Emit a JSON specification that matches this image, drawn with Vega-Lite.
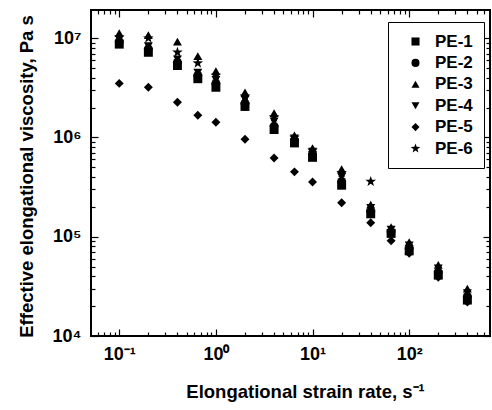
{
  "$schema": "https://vega.github.io/schema/vega-lite/v6.json",
  "width": 399,
  "height": 326,
  "autosize": {"type": "none"},
  "padding": {"left": 91, "top": 10, "right": 2, "bottom": 74},
  "background": "white",
  "config": {
    "view": {"stroke": "black", "strokeWidth": 2},
    "font": "Liberation Sans",
    "axis": {"grid": false, "domain": false, "labelOverlap": false, "labelFlush": false}
  },
  "data": {
    "values": [
      {"series": "PE-1", "rate": 0.1, "visc": 8700000}, {"series": "PE-1", "rate": 0.2, "visc": 7200000}, {"series": "PE-1", "rate": 0.4, "visc": 5300000}, {"series": "PE-1", "rate": 0.65, "visc": 3900000}, {"series": "PE-1", "rate": 1, "visc": 3200000}, {"series": "PE-1", "rate": 2, "visc": 2050000}, {"series": "PE-1", "rate": 4, "visc": 1200000}, {"series": "PE-1", "rate": 6.5, "visc": 880000}, {"series": "PE-1", "rate": 10, "visc": 630000}, {"series": "PE-1", "rate": 20, "visc": 330000}, {"series": "PE-1", "rate": 40, "visc": 170000}, {"series": "PE-1", "rate": 65, "visc": 108000}, {"series": "PE-1", "rate": 100, "visc": 72000}, {"series": "PE-1", "rate": 200, "visc": 41000}, {"series": "PE-1", "rate": 400, "visc": 23000},
      {"series": "PE-2", "rate": 0.1, "visc": 9200000}, {"series": "PE-2", "rate": 0.2, "visc": 7800000}, {"series": "PE-2", "rate": 0.4, "visc": 5700000}, {"series": "PE-2", "rate": 0.65, "visc": 4200000}, {"series": "PE-2", "rate": 1, "visc": 3500000}, {"series": "PE-2", "rate": 2, "visc": 2200000}, {"series": "PE-2", "rate": 4, "visc": 1300000}, {"series": "PE-2", "rate": 6.5, "visc": 930000}, {"series": "PE-2", "rate": 10, "visc": 680000}, {"series": "PE-2", "rate": 20, "visc": 360000}, {"series": "PE-2", "rate": 40, "visc": 180000}, {"series": "PE-2", "rate": 65, "visc": 112000}, {"series": "PE-2", "rate": 100, "visc": 76000}, {"series": "PE-2", "rate": 200, "visc": 44000}, {"series": "PE-2", "rate": 400, "visc": 25000},
      {"series": "PE-3", "rate": 0.1, "visc": 11200000}, {"series": "PE-3", "rate": 0.2, "visc": 10700000}, {"series": "PE-3", "rate": 0.4, "visc": 9200000}, {"series": "PE-3", "rate": 0.65, "visc": 6600000}, {"series": "PE-3", "rate": 1, "visc": 4650000}, {"series": "PE-3", "rate": 2, "visc": 2850000}, {"series": "PE-3", "rate": 4, "visc": 1760000}, {"series": "PE-3", "rate": 6.5, "visc": 1050000}, {"series": "PE-3", "rate": 10, "visc": 780000}, {"series": "PE-3", "rate": 20, "visc": 480000}, {"series": "PE-3", "rate": 40, "visc": 210000}, {"series": "PE-3", "rate": 65, "visc": 125000}, {"series": "PE-3", "rate": 100, "visc": 88000}, {"series": "PE-3", "rate": 200, "visc": 52000}, {"series": "PE-3", "rate": 400, "visc": 30000},
      {"series": "PE-4", "rate": 0.1, "visc": 9700000}, {"series": "PE-4", "rate": 0.2, "visc": 8300000}, {"series": "PE-4", "rate": 0.4, "visc": 6100000}, {"series": "PE-4", "rate": 0.65, "visc": 4500000}, {"series": "PE-4", "rate": 1, "visc": 3800000}, {"series": "PE-4", "rate": 2, "visc": 2400000}, {"series": "PE-4", "rate": 4, "visc": 1450000}, {"series": "PE-4", "rate": 6.5, "visc": 980000}, {"series": "PE-4", "rate": 10, "visc": 720000}, {"series": "PE-4", "rate": 20, "visc": 400000}, {"series": "PE-4", "rate": 40, "visc": 195000}, {"series": "PE-4", "rate": 65, "visc": 118000}, {"series": "PE-4", "rate": 100, "visc": 82000}, {"series": "PE-4", "rate": 200, "visc": 48000}, {"series": "PE-4", "rate": 400, "visc": 27000},
      {"series": "PE-5", "rate": 0.1, "visc": 3500000}, {"series": "PE-5", "rate": 0.2, "visc": 3200000}, {"series": "PE-5", "rate": 0.4, "visc": 2260000}, {"series": "PE-5", "rate": 0.65, "visc": 1670000}, {"series": "PE-5", "rate": 1, "visc": 1420000}, {"series": "PE-5", "rate": 2, "visc": 960000}, {"series": "PE-5", "rate": 4, "visc": 620000}, {"series": "PE-5", "rate": 6.5, "visc": 450000}, {"series": "PE-5", "rate": 10, "visc": 355000}, {"series": "PE-5", "rate": 20, "visc": 220000}, {"series": "PE-5", "rate": 40, "visc": 138000}, {"series": "PE-5", "rate": 65, "visc": 91000}, {"series": "PE-5", "rate": 100, "visc": 68000}, {"series": "PE-5", "rate": 200, "visc": 39000}, {"series": "PE-5", "rate": 400, "visc": 22000},
      {"series": "PE-6", "rate": 0.1, "visc": 10200000}, {"series": "PE-6", "rate": 0.2, "visc": 10000000}, {"series": "PE-6", "rate": 0.4, "visc": 7200000}, {"series": "PE-6", "rate": 0.65, "visc": 5600000}, {"series": "PE-6", "rate": 1, "visc": 4200000}, {"series": "PE-6", "rate": 2, "visc": 2600000}, {"series": "PE-6", "rate": 4, "visc": 1600000}, {"series": "PE-6", "rate": 6.5, "visc": 1000000}, {"series": "PE-6", "rate": 10, "visc": 740000}, {"series": "PE-6", "rate": 20, "visc": 440000}, {"series": "PE-6", "rate": 40, "visc": 360000}
    ]
  },
  "layer": [
    {
      "mark": {"type": "point", "filled": true, "opacity": 1, "size": 80, "color": "black"},
      "encoding": {
        "x": {
          "field": "rate", "type": "quantitative",
          "scale": {"type": "log", "domain": [0.051, 686], "nice": false},
          "axis": {
            "orient": "bottom",
            "values": [0.06,0.07,0.08,0.09,0.1,0.2,0.3,0.4,0.5,0.6,0.7,0.8,0.9,1,2,3,4,5,6,7,8,9,10,20,30,40,50,60,70,80,90,100,200,300,400,500,600],
            "labelExpr": "datum.value == 0.1 ? '10⁻¹' : datum.value == 1 ? '10⁰' : datum.value == 10 ? '10¹' : datum.value == 100 ? '10²' : ''",
            "tickSize": {"condition": {"test": "datum.value == 0.1 || datum.value == 1 || datum.value == 10 || datum.value == 100", "value": -7}, "value": -4},
            "tickColor": "black", "tickWidth": 1.2,
            "labelFontSize": 18, "labelFontWeight": "bold", "labelColor": "black", "labelPadding": 16,
            "title": "Elongational strain rate, s⁻¹",
            "titleFontSize": 18.5, "titleFontWeight": "bold", "titleColor": "black",
            "titleX": 214, "titleY": 61, "titleAnchor": "middle", "titleAlign": "center", "titleBaseline": "alphabetic"
          }
        },
        "y": {
          "field": "visc", "type": "quantitative",
          "scale": {"type": "log", "domain": [10000, 19200000], "nice": false},
          "axis": {
            "orient": "left",
            "values": [10000,20000,30000,40000,50000,60000,70000,80000,90000,100000,200000,300000,400000,500000,600000,700000,800000,900000,1000000,2000000,3000000,4000000,5000000,6000000,7000000,8000000,9000000,10000000],
            "labelExpr": "datum.value == 10000 ? '10⁴' : datum.value == 100000 ? '10⁵' : datum.value == 1000000 ? '10⁶' : datum.value == 10000000 ? '10⁷' : ''",
            "tickSize": {"condition": {"test": "datum.value == 10000 || datum.value == 100000 || datum.value == 1000000 || datum.value == 10000000", "value": -7}, "value": -4},
            "tickColor": "black", "tickWidth": 1.2,
            "labelFontSize": 18, "labelFontWeight": "bold", "labelColor": "black", "labelPadding": 17,
            "title": "Effective elongational viscosity, Pa s",
            "titleFontSize": 18.5, "titleFontWeight": "bold", "titleColor": "black",
            "titleX": -65, "titleY": 166, "titleAngle": -90, "titleAlign": "center", "titleBaseline": "middle"
          }
        },
        "shape": {
          "field": "series", "type": "nominal",
          "scale": {
            "domain": ["PE-1", "PE-2", "PE-3", "PE-4", "PE-5", "PE-6"],
            "range": ["square", "circle", "triangle-up", "triangle-down", "diamond", "M0,-1.25L0.294,-0.405L1.189,-0.386L0.475,0.155L0.735,1.011L0,0.5L-0.735,1.011L-0.475,0.155L-1.189,-0.386L-0.294,-0.405Z"]
          },
          "legend": {
            "title": null, "orient": "none", "legendX": 297, "legendY": 12,
            "direction": "vertical",
            "fillColor": "white", "strokeColor": "black",
            "padding": 11, "rowPadding": 3.4,
            "symbolSize": 65, "symbolFillColor": "black", "symbolStrokeColor": "black", "symbolStrokeWidth": 0,
            "symbolOffset": 8, "labelOffset": 11,
            "labelFontSize": 17, "labelFontWeight": "bold", "labelColor": "black", "labelFont": "Liberation Sans",
            "encode": {"legend": {"update": {"strokeWidth": {"value": 1.5}}}}
          }
        }
      }
    },
    {
      "mark": {"type": "point", "opacity": 0},
      "encoding": {
        "x": {
          "field": "rate", "type": "quantitative",
          "scale": {"type": "log", "domain": [0.051, 686], "nice": false},
          "axis": {
            "orient": "top", "labels": false, "title": null,
            "values": [0.06,0.07,0.08,0.09,0.1,0.2,0.3,0.4,0.5,0.6,0.7,0.8,0.9,1,2,3,4,5,6,7,8,9,10,20,30,40,50,60,70,80,90,100,200,300,400,500,600],
            "tickSize": {"condition": {"test": "datum.value == 0.1 || datum.value == 1 || datum.value == 10 || datum.value == 100", "value": -7}, "value": -4},
            "tickColor": "black", "tickWidth": 1.2
          }
        },
        "y": {
          "field": "visc", "type": "quantitative",
          "scale": {"type": "log", "domain": [10000, 19200000], "nice": false},
          "axis": {
            "orient": "right", "labels": false, "title": null,
            "values": [10000,20000,30000,40000,50000,60000,70000,80000,90000,100000,200000,300000,400000,500000,600000,700000,800000,900000,1000000,2000000,3000000,4000000,5000000,6000000,7000000,8000000,9000000,10000000],
            "tickSize": {"condition": {"test": "datum.value == 10000 || datum.value == 100000 || datum.value == 1000000 || datum.value == 10000000", "value": -7}, "value": -4},
            "tickColor": "black", "tickWidth": 1.2
          }
        }
      }
    }
  ],
  "resolve": {"axis": {"x": "independent", "y": "independent"}}
}
